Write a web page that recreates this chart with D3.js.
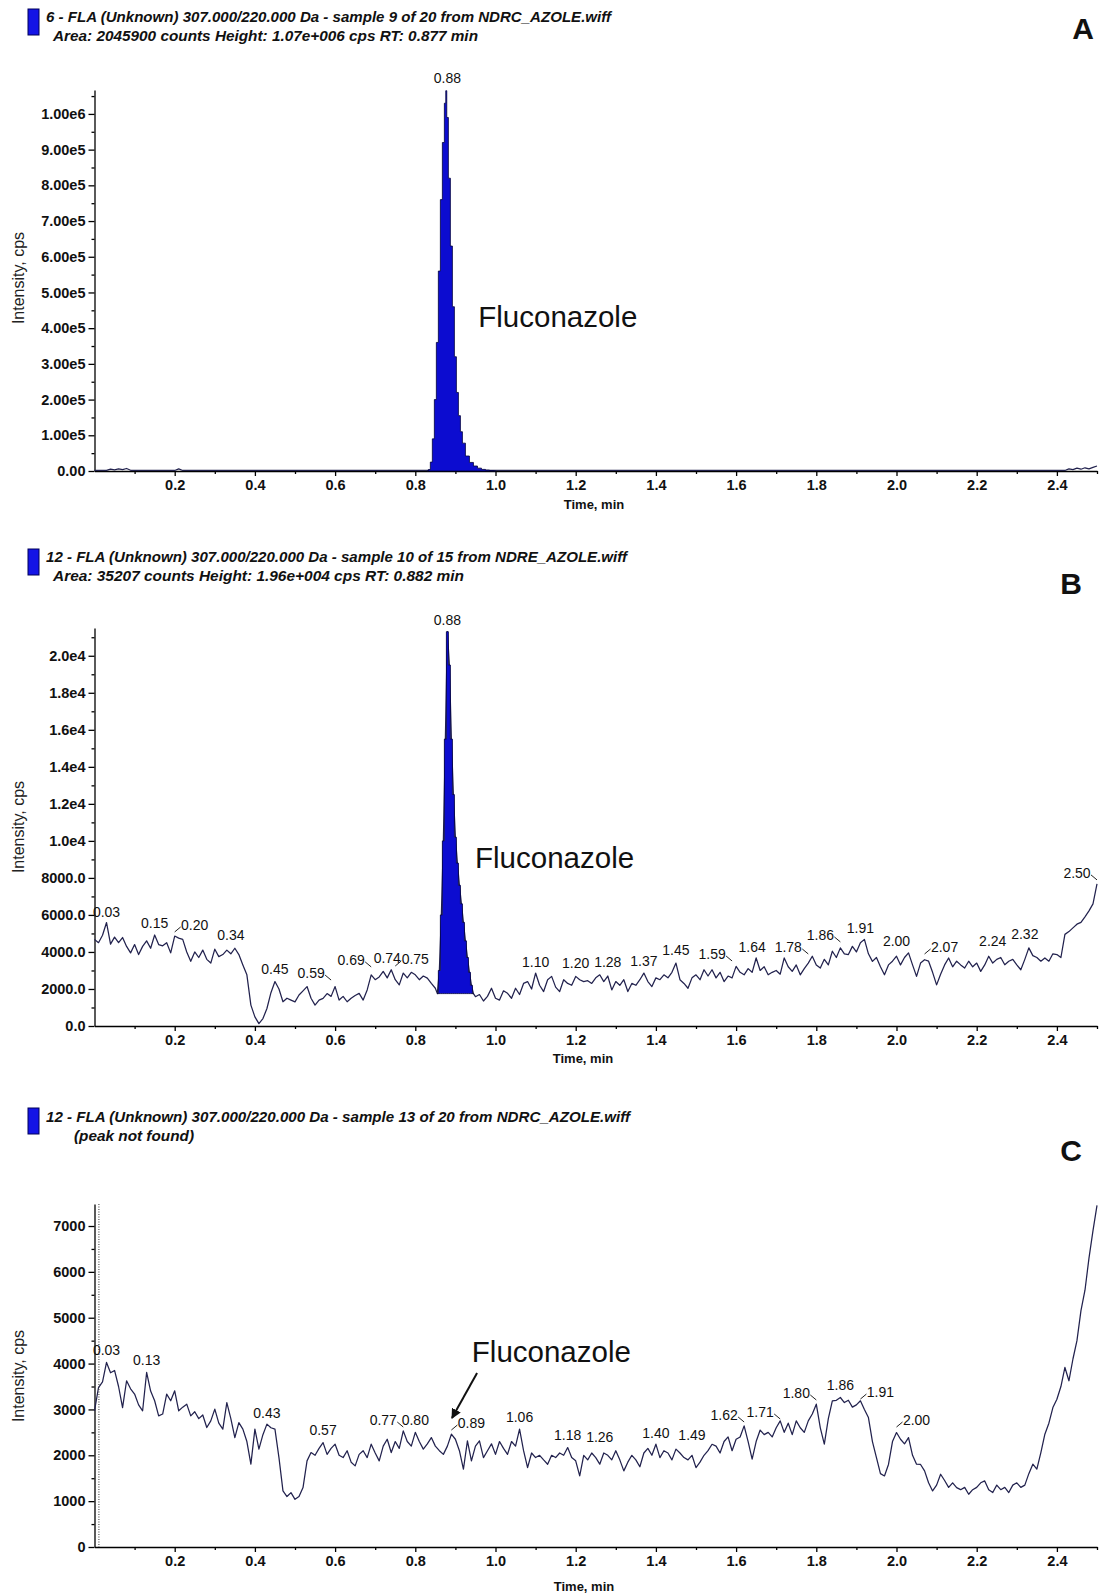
<!DOCTYPE html>
<html>
<head>
<meta charset="utf-8">
<script src="https://cdn.jsdelivr.net/npm/d3@7"></script>
<style>
  body { margin: 0; background: #fff; }
  svg { display: block; }
  .axis path, .axis line { stroke: #000; stroke-width: 1.3; }
  .axis text { font-family: "Liberation Sans", Arial, sans-serif; font-weight: bold; font-size: 14.5px; fill: #111; }
  .title { font-family: "Liberation Sans Narrow", "Liberation Sans", Arial, sans-serif; font-weight: bold; font-style: italic; font-size: 14px; fill: #111; }
  .letter { font-family: "Liberation Sans", Arial, sans-serif; font-weight: bold; font-size: 30px; fill: #111; }
  .ylab { font-family: "Liberation Sans", Arial, sans-serif; font-size: 16px; fill: #222; }
  .xlab { font-family: "Liberation Sans", Arial, sans-serif; font-weight: bold; font-size: 13px; fill: #111; }
  .plabel { font-family: "Liberation Sans", Arial, sans-serif; font-size: 14px; fill: #111; }
  .drug { font-family: "Liberation Sans", Arial, sans-serif; font-size: 29.5px; fill: #111; }
</style>
</head>
<body>
<svg id="chart" width="1099" height="1595"></svg>
<script>
// ---- panel A : low level trace + fluconazole peak ----
const timesA = [0, 0.03, 0.04, 0.05, 0.06, 0.07, 0.08, 0.09, 0.1, 0.2, 0.21, 0.22, 0.4, 0.6, 0.8, 0.83,
  1.0, 1.5, 2.0, 2.42, 2.43, 2.44, 2.45, 2.46, 2.47, 2.48, 2.49, 2.5];
const valsA = [1500, 1500, 5000, 3000, 6000, 4000, 7000, 2000, 1500, 1500, 6000, 1500, 1500, 1500, 1500, 1500,
  1500, 1500, 1500, 1500, 6000, 4000, 8000, 5000, 9000, 6000, 10000, 14000];
const peakTimesA = [0.83, 0.835, 0.84, 0.845, 0.85, 0.855, 0.86, 0.865, 0.87, 0.875, 0.877, 0.88, 0.885, 0.89,
  0.895, 0.9, 0.905, 0.91, 0.915, 0.92, 0.93, 0.94, 0.95, 0.96, 0.97, 0.98, 0.99, 1.0];
const peakValsA = [0, 4000, 25000, 90000, 200000, 360000, 560000, 760000, 920000, 1030000, 1065000, 990000,
  820000, 630000, 460000, 320000, 220000, 155000, 110000, 78000, 42000, 24000, 14000, 8000, 4500, 2500, 1200, 0];
const labelTimesA = [0.88];
const labelHeightsA = [1087000];
const leaderA = [0];

// ---- panel B : trace every 0.01 min (null = inside the integrated peak) ----
const traceB = [
  4680, 4500, 4900, 5590, 4420, 4800, 4500, 4780, 4300, 3950,
  4400, 3860, 4300, 4600, 4200, 4915, 4400, 4330, 4500, 3950,
  4860, 4750, 4680, 4000, 3494, 4000, 3700, 4100, 3600, 3400,
  4150, 3750, 3860, 4100, 3900, 4200, 3860, 3300, 2766, 1130,
  491, 127, 400, 946, 1800, 2400, 2000, 1310, 1500, 1400,
  1300, 1676, 1900, 2130, 1500, 1130, 1400, 1490, 1750, 1600,
  2130, 1400, 1600, 1310, 1500, 1650, 1765, 1400, 1950, 2766,
  2500, 2650, 2950, 2600, 3040, 2500, 2220, 2860, 2600, 2900,
  2766, 2500, 2700, 2585, 2300, 2040, null, null, null, null,
  null, null, null, null, null, 1583, 1700, 1350, 1600, 2040,
  1500, 1400, 1900, 1765, 1500, 2040, 1700, 2300, 2400, 2000,
  2860, 2200, 1860, 2500, 2680, 2100, 1860, 2500, 2300, 2200,
  2680, 2500, 2400, 2450, 2300, 2600, 2766, 2400, 2700, 1950,
  2400, 2200, 2500, 1860, 2300, 2200, 2500, 2860, 2400, 2130,
  2600, 2500, 2766, 2600, 2900, 3400, 2500, 2300, 2040, 2600,
  2766, 2500, 3040, 2700, 3040, 2600, 2900, 2400, 2700, 2600,
  3220, 2900, 2766, 3100, 2900, 3675, 3000, 3200, 2766, 2900,
  3000, 2800, 3675, 3200, 2950, 3300, 2766, 3100, 3400, 3770,
  3300, 3130, 3600, 3300, 4040, 3700, 4220, 3900, 3860, 4300,
  4000, 4500, 4680, 3900, 3490, 3700, 3200, 2766, 3300, 3500,
  3770, 3300, 3700, 3950, 3300, 2680, 3400, 3580, 3500, 2900,
  2220, 2800, 3300, 3675, 3200, 3500, 3300, 3130, 3500, 3200,
  3400, 2950, 3300, 3770, 3400, 3600, 3700, 3310, 3500, 3600,
  3300, 3040, 3600, 4220, 3800, 3700, 3500, 3675, 3500, 3900,
  3860, 3700, 4950, 5100, 5300, 5500, 5600, 5900, 6220, 6600,
  7680
];
const peakTimesB = [0.855, 0.86, 0.865, 0.87, 0.875, 0.88, 0.885, 0.89, 0.895, 0.9, 0.905, 0.91, 0.915,
  0.92, 0.925, 0.93, 0.935, 0.94, 0.945];
const peakValsB = [1750, 3000, 6000, 10000, 15500, 21300, 19500, 15500, 12500, 10200, 8800, 7600, 6600,
  5600, 4600, 3700, 2900, 2200, 1750];
const peakBaseB = 1750;
const labelTimesB = [0.03, 0.15, 0.20, 0.34, 0.45, 0.59, 0.69, 0.74, 0.75, 0.88, 1.10, 1.20, 1.28, 1.37, 1.45,
  1.59, 1.64, 1.78, 1.86, 1.91, 2.00, 2.07, 2.24, 2.32, 2.50];
const labelHeightsB = [5890, 5300, 5190, 4650, 2810, 2590, 3300, 3400, 3350, 21680, 3190, 3135, 3190, 3240, 3840,
  3620, 4000, 4000, 4650, 5030, 4320, 4000, 4320, 4700, 8000];
const leaderB = [0, 0, -1, 0, 0, 1, 1, 0, -1, 0, 0, 0, 0, 0, 0, 1, 0, 1, 1, 0, 0, -1, 0, 0, 1];

// ---- panel C : trace every 0.01 min ----
const traceC = [
  2970, 3478, 3600, 4025, 3800, 3850, 3500, 3040, 3625, 3450,
  3335, 3100, 2970, 3806, 3400, 3190, 2860, 2900, 3334, 3190,
  3406, 2970, 3050, 3115, 2860, 2950, 2800, 2880, 2605, 2750,
  3006, 2700, 2570, 3150, 2800, 2386, 2713, 2570, 2300, 1806,
  2570, 2135, 2450, 2680, 2600, 2570, 1950, 1223, 1100, 1187,
  1040, 1100, 1296, 1878, 2060, 2000, 2150, 2277, 2020, 2150,
  2242, 2000, 1950, 2100, 1850, 1769, 2020, 2100, 1950, 2242,
  2050, 1878, 2200, 2350, 2060, 2300, 2150, 2533, 2300, 2200,
  2500, 2300, 2135, 2250, 2387, 2200, 2100, 2020, 2200, 2460,
  2350, 2100, 1696, 2315, 1878, 2200, 2315, 1950, 2100, 2250,
  2020, 2300, 2150, 2020, 2300, 2200, 2570, 2100, 1732, 2050,
  1950, 2000, 1900, 1805, 2000, 1950, 2050, 2000, 2168, 1950,
  1880, 1550, 2000, 1900, 2050, 1950, 1806, 2050, 2000, 1900,
  2100, 1900, 1660, 1850, 2000, 1900, 1750, 2050, 2150, 2000,
  2242, 1950, 2100, 2050, 1900, 2135, 2050, 1950, 1900, 2000,
  1732, 1850, 2000, 2100, 2240, 2200, 2050, 2300, 2400, 2100,
  2350, 2400, 2642, 2300, 1915, 2300, 2550, 2450, 2500, 2400,
  2600, 2750, 2500, 2700, 2450, 2750, 2600, 2500, 2750, 2900,
  3115, 2600, 2242, 2800, 3188, 3200, 3260, 3150, 3200, 3050,
  3100, 3188, 3000, 2823, 2300, 1950, 1600, 1550, 1800, 2300,
  2496, 2350, 2250, 2387, 2000, 1806, 1800, 1660, 1400, 1223,
  1350, 1587, 1450, 1300, 1400, 1295, 1250, 1300, 1150, 1250,
  1300, 1400, 1441, 1250, 1187, 1350, 1250, 1300, 1187, 1350,
  1400, 1300, 1350, 1600, 1806, 1700, 2060, 2460, 2700, 3040,
  3223, 3500, 3915, 3625, 4100, 4500, 5153, 5600, 6300, 6900,
  7450
];
const labelTimesC = [0.03, 0.13, 0.43, 0.57, 0.77, 0.80, 0.89, 1.06, 1.18, 1.26, 1.40, 1.49, 1.62, 1.71, 1.80,
  1.86, 1.91, 2.00];
const labelHeightsC = [4187, 3970, 2813, 2442, 2660, 2660, 2595, 2726, 2333, 2290, 2377, 2333, 2770, 2835, 3250,
  3423, 3270, 2660];
const leaderC = [0, 0, 0, 0, 1, 0, -1, 0, 0, 0, 0, 0, 1, 1, 1, 0, -1, -1];

// ---- axis ticks ----
const xMajor = [0.2, 0.4, 0.6, 0.8, 1.0, 1.2, 1.4, 1.6, 1.8, 2.0, 2.2, 2.4];
const xMinor = [0.1, 0.3, 0.5, 0.7, 0.9, 1.1, 1.3, 1.5, 1.7, 1.9, 2.1, 2.3, 2.5];
const yTicksA = [0, 1e5, 2e5, 3e5, 4e5, 5e5, 6e5, 7e5, 8e5, 9e5, 1e6];
const yTicksB = [0, 2000, 4000, 6000, 8000, 10000, 12000, 14000, 16000, 18000, 20000];
const yTicksC = [0, 1000, 2000, 3000, 4000, 5000, 6000, 7000];

const titlesA = ["6 - FLA (Unknown) 307.000/220.000 Da - sample 9 of 20 from NDRC_AZOLE.wiff",
  "Area: 2045900 counts  Height: 1.07e+006 cps  RT: 0.877 min"];
const titlesB = ["12 - FLA (Unknown) 307.000/220.000 Da - sample 10 of 15 from NDRE_AZOLE.wiff",
  "Area: 35207 counts  Height: 1.96e+004 cps  RT: 0.882 min"];
const titlesC = ["12 - FLA (Unknown) 307.000/220.000 Da - sample 13 of 20 from NDRC_AZOLE.wiff",
  "(peak not found)"];

const svg = d3.select('#chart');
const x = d3.scaleLinear().domain([0, 2.5]).range([94.5, 1097]);
const traceColor = '#22224e';

const fmtA = v => {
  if (v === 0) return '0.00';
  const e = Math.floor(Math.log10(v) + 1e-9);
  return (v / Math.pow(10, e)).toFixed(2) + 'e' + e;
};
const fmtB = v => v < 10000 ? v.toFixed(1) : (v / 1e4).toFixed(1) + 'e4';
const fmtC = d3.format('d');

const panels = [
  { y: d3.scaleLinear().domain([0, 1.067e6]).range([471, 90]), ticks: yTicksA, fmt: fmtA,
    titles: titlesA, titleY: 22, widths: [565, 425], indent: [46, 53], rectY: 9, letter: 'A', letterX: 1094,
    letterY: 39, ylabY: 278, xlab: [594, 509], drug: [0.957, 403000],
    base: timesA.map((t, i) => [t, valsA[i]]),
    peak: peakTimesA.map((t, i) => [t, peakValsA[i]]), peakBase: 0,
    lt: labelTimesA, lh: labelHeightsA, lead: leaderA },
  { y: d3.scaleLinear().domain([0, 21500]).range([1026, 628]), ticks: yTicksB, fmt: fmtB,
    titles: titlesB, titleY: 562, widths: [581, 411], indent: [46, 53], rectY: 549, letter: 'B', letterX: 1082,
    letterY: 594, ylabY: 827, xlab: [583, 1063], drug: [0.949, 8540],
    base: traceB.map((v, i) => [i / 100, v]).filter(d => d[1] !== null)
      .concat(peakTimesB.map((t, i) => [t, peakValsB[i]])).sort((a, b) => a[0] - b[0]),
    peak: peakTimesB.map((t, i) => [t, peakValsB[i]]), peakBase: peakBaseB,
    lt: labelTimesB, lh: labelHeightsB, lead: leaderB },
  { y: d3.scaleLinear().domain([0, 7480]).range([1547, 1204]), ticks: yTicksC, fmt: fmtC,
    titles: titlesC, titleY: 1122, widths: [584, 120], indent: [46, 74], rectY: 1108, letter: 'C', letterX: 1082,
    letterY: 1161, ylabY: 1376, xlab: [584, 1591], drug: [0.941, 4034],
    base: traceC.map((v, i) => [i / 100, v]), peak: null,
    lt: labelTimesC, lh: labelHeightsC, lead: leaderC }
];

panels.forEach((p, k) => {
  const g = svg.append('g');
  const y = p.y;
  const y0 = y.range()[0];

  // header
  g.append('rect').attr('x', 28).attr('y', p.rectY).attr('width', 11).attr('height', 26)
    .attr('fill', '#1414e6').attr('stroke', '#00005a').attr('stroke-width', 1);
  p.titles.forEach((t, i) => {
    g.append('text').attr('class', 'title')
      .attr('x', p.indent[i]).attr('y', p.titleY + i * 18.5)
      .attr('textLength', p.widths[i]).attr('lengthAdjust', 'spacingAndGlyphs')
      .text(t);
  });
  g.append('text').attr('class', 'letter').attr('x', p.letterX).attr('y', p.letterY)
    .attr('text-anchor', 'end').text(p.letter);

  // axes
  g.append('g').attr('class', 'axis').attr('transform', `translate(0,${y0})`)
    .call(d3.axisBottom(x).tickValues(xMajor).tickSize(5).tickPadding(4).tickSizeOuter(0)
      .tickFormat(d3.format('.1f')));
  g.append('g').attr('class', 'axis').attr('transform', `translate(0,${y0})`)
    .call(d3.axisBottom(x).tickValues(xMinor).tickSize(3).tickFormat(''))
    .select('.domain').remove();

  const step = p.ticks[1] - p.ticks[0];
  const minor = p.ticks.map(v => v + step / 2).filter(v => v < y.domain()[1]);
  g.append('g').attr('class', 'axis').attr('transform', `translate(${x(0)},0)`)
    .call(d3.axisLeft(y).tickValues(p.ticks).tickSize(6).tickPadding(3).tickSizeOuter(0).tickFormat(p.fmt));
  g.append('g').attr('class', 'axis').attr('transform', `translate(${x(0)},0)`)
    .call(d3.axisLeft(y).tickValues(minor).tickSize(3).tickFormat(''))
    .select('.domain').remove();

  g.append('text').attr('class', 'ylab')
    .attr('transform', `translate(24,${p.ylabY}) rotate(-90)`)
    .attr('text-anchor', 'middle').text('Intensity, cps');
  g.append('text').attr('class', 'xlab').attr('x', p.xlab[0]).attr('y', p.xlab[1])
    .attr('text-anchor', 'middle').text('Time, min');

  // trace
  const line = d3.line().x(d => x(d[0])).y(d => y(d[1]));
  g.append('path').datum(p.base).attr('d', line)
    .attr('fill', 'none').attr('stroke', traceColor).attr('stroke-width', 1.25)
    .attr('stroke-linejoin', 'round');

  if (p.peak) {
    const area = d3.area().x(d => x(d[0])).y0(y(p.peakBase)).y1(d => y(d[1])).curve(d3.curveStep);
    g.append('path').datum(p.peak).attr('d', area)
      .attr('fill', '#0c0cd0').attr('stroke', '#00003c').attr('stroke-width', 0.8);
  }

  if (k === 2) {
    // dotted marker next to the axis
    g.append('line').attr('x1', x(0.011)).attr('x2', x(0.011))
      .attr('y1', y.range()[1]).attr('y2', y0)
      .attr('stroke', '#333').attr('stroke-width', 1).attr('stroke-dasharray', '1,1.5');
  }

  // peak labels; neighbours that would touch are pushed apart
  const labs = p.lt.map((t, i) => ({ t, lead: p.lead[i], cx: x(t) - p.lead[i] * 20, yb: y(p.lh[i]) }));
  const halfW = 13.5;
  for (let i = labs.length - 1; i > 0; i--) {
    const a = labs[i - 1], b = labs[i];
    if (Math.abs(a.yb - b.yb) < 12 && a.cx + halfW > b.cx - halfW) a.cx = b.cx - 2 * halfW - 1;
  }
  labs.forEach(l => {
    g.append('text').attr('class', 'plabel').attr('x', l.cx).attr('y', l.yb)
      .attr('text-anchor', 'middle').text(l.t.toFixed(2));
    if (l.lead !== 0) {
      g.append('line')
        .attr('x1', x(l.t) - l.lead * 6).attr('y1', l.yb - 3)
        .attr('x2', x(l.t)).attr('y2', l.yb + 2)
        .attr('stroke', '#222').attr('stroke-width', 1);
    }
  });

  // compound annotation
  g.append('text').attr('class', 'drug')
    .attr('x', x(p.drug[0])).attr('y', y(p.drug[1])).text('Fluconazole');
});

// arrow in panel C
const yC = panels[2].y;
svg.append('defs').append('marker').attr('id', 'arrow')
  .attr('viewBox', '0 0 10 10').attr('refX', 9).attr('refY', 5)
  .attr('markerWidth', 5).attr('markerHeight', 5).attr('orient', 'auto')
  .append('path').attr('d', 'M0,0L10,5L0,10z').attr('fill', '#111');
svg.append('line')
  .attr('x1', x(0.954)).attr('y1', yC(3794))
  .attr('x2', x(0.8915)).attr('y2', yC(2813))
  .attr('stroke', '#111').attr('stroke-width', 2).attr('marker-end', 'url(#arrow)');
</script>
</body>
</html>
